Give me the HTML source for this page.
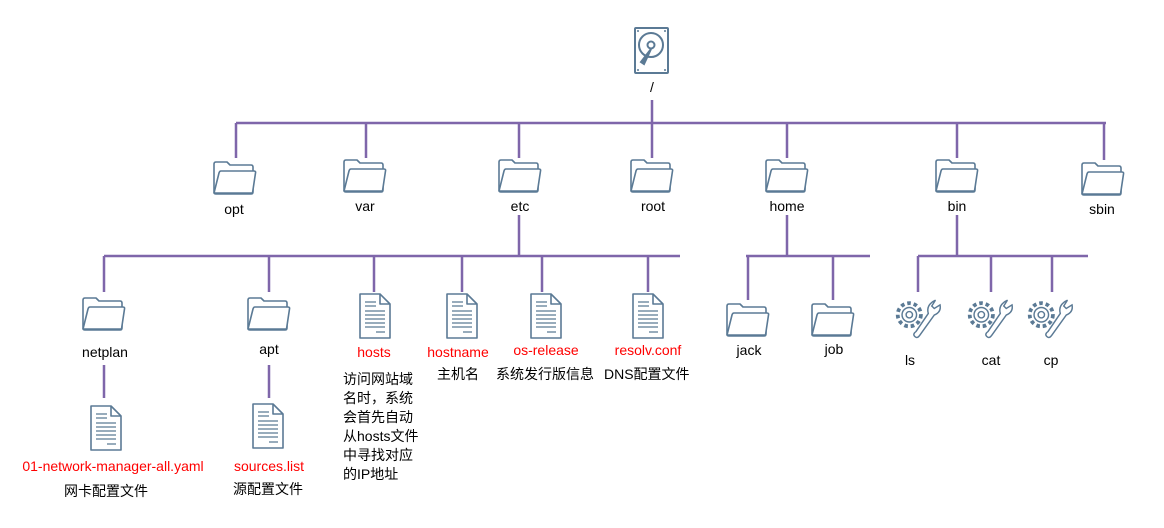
<!DOCTYPE html>
<html><head><meta charset="utf-8"><style>
body{margin:0;background:#fff}
svg{display:block}
text{font-family:"Liberation Sans","Noto Sans CJK SC",sans-serif;font-size:14px;fill:#000}
.r{fill:#ff0000}
</style></head><body>
<svg width="1164" height="528" viewBox="0 0 1164 528" xmlns="http://www.w3.org/2000/svg">
<defs>
<g id="fold" fill="#fff" stroke="#5b7a95" stroke-width="1.6" stroke-linejoin="round">
<path d="M-21,-14 q0,-2 2,-2 h11 l3,3 h21 q2,0 2,2 v25 q0,2 -2,2 h-35 q-2,0 -2,-2 z"/>
<path d="M-21,15 l5,-20 q0.5,-2 2,-2 h33 q2,0 1.5,2 l-3,20 z"/>
</g>
<g id="doc" fill="#fff" stroke="#5b7a95" stroke-width="1.6" stroke-linejoin="round">
<path d="M-15,-22 h20 l10,10 v34 h-30 z"/>
<path d="M5,-22 v10 h10" fill="none"/>
<path d="M-10,-14 h11 M-10,-10 h11 M-10,-5 h20 M-10,-1 h20 M-10,3 h20 M-10,7 h20 M-10,11 h20 M1,16 h9" stroke-width="1.2"/>
</g>
<g id="tool" fill="none" stroke="#5b7a95" stroke-width="1">
<g transform="scale(1.45)">
<circle cx="-6" cy="-5" r="8" stroke-dasharray="2.5 2" stroke-width="2.6"/>
<circle cx="-6" cy="-5" r="5"/>
<circle cx="-6" cy="-5" r="2.2"/>
<path d="M12,-15 l-2.5,4 1.7,1.7 4,-2.5 q1,5 -4,7 l-10,14 q-1.7,2.5 -3.4,0.8 q-1.7,-1.7 0.8,-3.4 l8.5,-12.5 q-1.7,-6 5,-9.2z"/>
</g>
</g>
</defs>
<g stroke="#7f66aa" stroke-width="2.5" fill="none">
<path d="M652,100V123 M236,123H1106 M236,123V158 M366,123V158 M519,123V158 M652,123V158 M787,123V158 M957,123V158 M1104,123V160"/>
<path d="M519,215V256 M104,256H680 M104,256V292 M269,256V292 M374,256V292 M462,256V292 M542,256V292 M648,256V292"/>
<path d="M787,215V256 M746,256H870 M748,256V300 M833,256V300"/>
<path d="M957,215V256 M918,256H1088 M918,256V292 M991,256V292 M1052,256V292"/>
<path d="M104,365V398 M269,365V398"/>
</g>
<g fill="#fff" stroke="#5b7a95" stroke-width="2">
<rect x="635" y="28" width="33" height="45" rx="1"/>
<circle cx="651" cy="45" r="12"/>
<circle cx="651" cy="45" r="3.5"/>
<path d="M651,49 l-10,13 l3,2 z" fill="#5b7a95"/>
</g>
<g fill="#5b7a95"><circle cx="638" cy="31" r="1"/><circle cx="665" cy="31" r="1"/><circle cx="638" cy="70" r="1"/><circle cx="665" cy="70" r="1"/></g>
<text x="652" y="92" text-anchor="middle">/</text>
<use href="#fold" x="235" y="178"/><use href="#fold" x="365" y="176"/><use href="#fold" x="520" y="176"/>
<use href="#fold" x="652" y="176"/><use href="#fold" x="787" y="176"/><use href="#fold" x="957" y="176"/><use href="#fold" x="1103" y="179"/>
<g text-anchor="middle">
<text x="234" y="214">opt</text><text x="365" y="211">var</text><text x="520" y="211">etc</text>
<text x="653" y="211">root</text><text x="787" y="211">home</text><text x="957" y="211">bin</text><text x="1102" y="214">sbin</text>
</g>
<use href="#fold" x="104" y="314"/><use href="#fold" x="269" y="314"/>
<use href="#doc" x="375" y="316"/><use href="#doc" x="462" y="316"/><use href="#doc" x="546" y="316"/><use href="#doc" x="648" y="316"/>
<g text-anchor="middle">
<text x="105" y="357">netplan</text><text x="269" y="354">apt</text>
<text class="r" x="374" y="357">hosts</text><text class="r" x="458" y="357">hostname</text>
<text class="r" x="546" y="355">os-release</text><text class="r" x="648" y="355">resolv.conf</text>
</g>
<text x="343" y="384">访问网站域</text><text x="343" y="403">名时，系统</text><text x="343" y="422">会首先自动</text>
<text x="343" y="441">从hosts文件</text><text x="343" y="460">中寻找对应</text><text x="343" y="479">的IP地址</text>
<text x="437" y="379">主机名</text><text x="496" y="379">系统发行版信息</text><text x="604" y="379">DNS配置文件</text>
<use href="#doc" x="106" y="428"/><use href="#doc" x="268" y="426"/>
<g text-anchor="middle">
<text class="r" x="113" y="471">01-network-manager-all.yaml</text><text x="106" y="496">网卡配置文件</text>
<text class="r" x="269" y="471">sources.list</text><text x="268" y="494">源配置文件</text>
</g>
<use href="#fold" x="748" y="320"/><use href="#fold" x="833" y="320"/>
<g text-anchor="middle"><text x="749" y="355">jack</text><text x="834" y="354">job</text></g>
<use href="#tool" x="918" y="322"/><use href="#tool" x="990" y="322"/><use href="#tool" x="1050" y="322"/>
<g text-anchor="middle"><text x="910" y="365">ls</text><text x="991" y="365">cat</text><text x="1051" y="365">cp</text></g>
</svg>
</body></html>
